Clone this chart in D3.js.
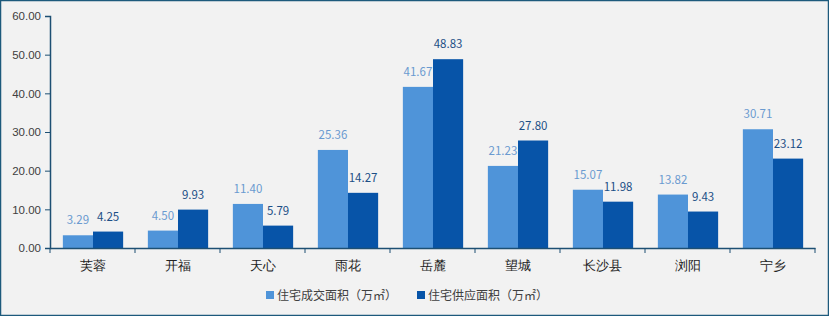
<!DOCTYPE html>
<html>
<head>
<meta charset="utf-8">
<script src="https://cdn.jsdelivr.net/npm/d3@7"></script>
<style>
  body { margin: 0; background: #fff; }
  svg { display: block; font-family: "Noto Sans CJK SC", "DejaVu Sans", sans-serif; }
</style>
</head>
<body>
<div id="chart"></div>
<script>
var categories = ["芙蓉", "开福", "天心", "雨花", "岳麓", "望城", "长沙县", "浏阳", "宁乡"];
var dealArea = [3.29, 4.50, 11.40, 25.36, 41.67, 21.23, 15.07, 13.82, 30.71];
var supplyArea = [4.25, 9.93, 5.79, 14.27, 48.83, 27.80, 11.98, 9.43, 23.12];
var seriesNames = ["住宅成交面积（万㎡）", "住宅供应面积（万㎡）"];
var yTicks = [0, 10, 20, 30, 40, 50, 60];

var width = 829, height = 316;
var margin = {top: 16, right: 14, bottom: 68, left: 50};
var colors = ["#4f94d9", "#0754a8"];
var labelColors = ["#6a9ad0", "#1c4f86"];

var svg = d3.select("#chart")
	.append("svg")
	.attr("width", width)
	.attr("height", height);

svg.append("rect")
	.attr("x", 0.5).attr("y", 0.5)
	.attr("width", width - 1).attr("height", height - 1)
	.attr("fill", "#f2f2f2")
	.attr("stroke", "#1d5a7c")
	.attr("stroke-width", 1.5);

var x = d3.scaleBand()
	.domain(categories)
	.range([margin.left, width - margin.right]);

var x1 = d3.scaleBand()
	.domain([0, 1])
	.range([0, x.bandwidth()])
	.paddingOuter(0.41)
	.paddingInner(0)
	.align(0.52);

var y = d3.scaleLinear()
	.domain([0, 60])
	.range([height - margin.bottom, margin.top]);

var data = categories.map((c, i) => ({name: c, values: [dealArea[i], supplyArea[i]]}));

var groups = svg.append("g")
	.selectAll("g")
	.data(data)
	.join("g")
	.attr("transform", d => "translate(" + x(d.name) + ",0)");

groups.selectAll("rect")
	.data(d => d.values.map((v, k) => ({k: k, v: v})))
	.join("rect")
	.attr("x", d => x1(d.k))
	.attr("y", d => y(d.v))
	.attr("width", x1.bandwidth())
	.attr("height", d => y(0) - y(d.v))
	.attr("fill", d => colors[d.k]);

groups.selectAll("text")
	.data(d => d.values.map((v, k) => ({k: k, v: v})))
	.join("text")
	.attr("x", d => x1(d.k) + x1.bandwidth() / 2)
	.attr("y", d => y(d.v) - 11)
	.attr("text-anchor", "middle")
	.attr("font-size", 11.5)
	.attr("fill", d => labelColors[d.k])
	.text(d => d.v.toFixed(2));

var yAxis = g => g.attr("transform", "translate(" + margin.left + ",0)")
	.call(d3.axisLeft(y).tickValues(yTicks).tickFormat(d3.format(".2f")).tickSize(5).tickSizeOuter(5))
	.call(g => g.select(".domain").attr("stroke", "#1d4f73").attr("stroke-width", 1.5))
	.call(g => g.selectAll(".tick line").attr("stroke", "#1d4f73"))
	.call(g => g.selectAll(".tick text").attr("fill", "#404040").attr("font-size", 11.5).attr("x", -9));

var xAxis = g => g.attr("transform", "translate(0," + y(0) + ")")
	.call(d3.axisBottom(x).tickSize(0).tickSizeOuter(0))
	.call(g => g.select(".domain").attr("stroke", "#1d4f73").attr("stroke-width", 1.5))
	.call(g => g.selectAll(".tick text").attr("fill", "#222").attr("font-size", 12.5).attr("dy", "1.55em"));

svg.append("g").call(xAxis);
svg.append("g").call(yAxis);

// separators between categories
svg.append("g")
	.selectAll("line")
	.data(categories.concat(["end"]))
	.join("line")
	.attr("x1", (d, i) => i < categories.length ? x(d) : x.range()[1])
	.attr("x2", (d, i) => i < categories.length ? x(d) : x.range()[1])
	.attr("y1", y(0))
	.attr("y2", y(0) + 5)
	.attr("stroke", "#1d4f73");

var legendX = [266, 417];
var legend = svg.append("g")
	.selectAll("g")
	.data(seriesNames)
	.join("g")
	.attr("transform", (d, i) => "translate(" + legendX[i] + ",291)");

legend.append("rect")
	.attr("width", 8).attr("height", 8)
	.attr("fill", (d, i) => colors[i]);

legend.append("text")
	.attr("x", 11)
	.attr("y", 8.5)
	.attr("font-size", 12)
	.attr("fill", "#404040")
	.text(d => d);
</script>
</body>
</html>
